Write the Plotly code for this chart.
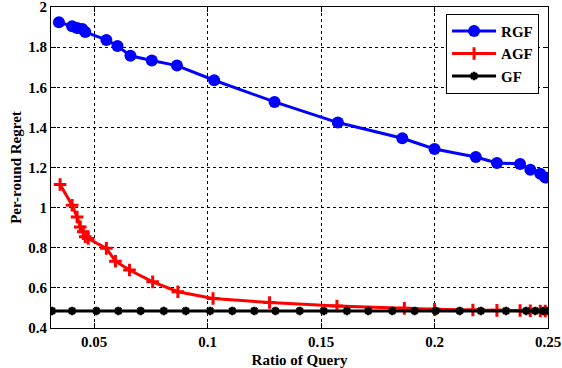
import plotly.graph_objects as go

# values
rgf_x = [0.0345, 0.0403, 0.0425, 0.0448, 0.0461, 0.0554, 0.0603, 0.0660, 0.0754, 0.0865,
         0.1029, 0.1295, 0.1574, 0.1858, 0.2000, 0.2182, 0.2275, 0.2377, 0.2422, 0.2466, 0.2488]
rgf_y = [1.924, 1.904, 1.895, 1.890, 1.875, 1.836, 1.806, 1.757, 1.733, 1.708,
         1.635, 1.527, 1.424, 1.346, 1.292, 1.252, 1.223, 1.218, 1.189, 1.169, 1.150]

agf_x = [0.0350, 0.0403, 0.0425, 0.0439, 0.0452, 0.0461, 0.0474, 0.0554, 0.0594, 0.0656,
         0.0758, 0.0869, 0.1024, 0.1273, 0.1570, 0.1867, 0.2000, 0.2169, 0.2275, 0.2377,
         0.2422, 0.2466, 0.2488]
agf_y = [1.115, 1.012, 0.953, 0.904, 0.880, 0.855, 0.846, 0.797, 0.733, 0.689,
         0.630, 0.581, 0.547, 0.527, 0.510, 0.498, 0.493, 0.490, 0.488, 0.487,
         0.486, 0.485, 0.485]

gf_x = [0.0314, 0.0403, 0.0510, 0.0607, 0.0705, 0.0807, 0.0904, 0.1011, 0.1109, 0.1206,
        0.1299, 0.1406, 0.1512, 0.1614, 0.1708, 0.1814, 0.1912, 0.2005, 0.2111, 0.2204,
        0.2315, 0.2404, 0.2444, 0.2479, 0.2500]
gf_y = [0.485] * len(gf_x)

x_ticks = [0.05, 0.1, 0.15, 0.2, 0.25]
x_ticklabels = ["0.05", "0.1", "0.15", "0.2", "0.25"]
y_ticks = [0.4, 0.6, 0.8, 1.0, 1.2, 1.4, 1.6, 1.8, 2.0]
y_ticklabels = ["0.4", "0.6", "0.8", "1", "1.2", "1.4", "1.6", "1.8", "2"]

font_family = "Liberation Serif"

fig = go.Figure()
fig.add_trace(go.Scatter(x=rgf_x, y=rgf_y, mode="lines+markers", name="<b>RGF</b>",
                         line=dict(color="#0000ff", width=3),
                         marker=dict(symbol="circle", size=12, color="#0000ff")))
fig.add_trace(go.Scatter(x=agf_x, y=agf_y, mode="lines+markers", name="<b>AGF</b>",
                         line=dict(color="#ff0000", width=3),
                         marker=dict(symbol="cross-thin", size=9,
                                     line=dict(color="#ff0000", width=3))))
fig.add_trace(go.Scatter(x=gf_x, y=gf_y, mode="lines+markers", name="<b>GF</b>",
                         line=dict(color="#000000", width=3),
                         marker=dict(symbol="asterisk", size=7,
                                     line=dict(color="#000000", width=2.5))))

axis_common = dict(showline=True, linecolor="black", linewidth=1, mirror="ticks",
                   ticks="inside", ticklen=5, tickcolor="black",
                   showgrid=True, gridcolor="black", gridwidth=1, griddash="dot",
                   zeroline=False, ticklabeloverflow="allow",
                   tickfont=dict(family=font_family, size=15, color="black"))

fig.update_xaxes(range=[0.031, 0.25], tickvals=x_ticks, ticktext=["<b>%s</b>" % t for t in x_ticklabels],
                 title=dict(text="<b>Ratio of Query</b>", font=dict(family=font_family, size=15, color="black"),
                            standoff=5),
                 **axis_common)
fig.update_yaxes(range=[0.4, 2.0], tickvals=y_ticks, ticktext=["<b>%s</b>" % t for t in y_ticklabels],
                 title=dict(text="<b>Per-round Regret</b>", font=dict(family=font_family, size=15, color="black"),
                            standoff=3),
                 **axis_common)

fig.update_layout(
    width=562, height=368,
    margin=dict(l=51, r=14, t=7, b=40, autoexpand=False),
    plot_bgcolor="white", paper_bgcolor="white",
    legend=dict(x=0.982, y=0.979, xanchor="right", yanchor="top",
                bgcolor="white", bordercolor="black", borderwidth=1,
                font=dict(family=font_family, size=15, color="black"),
                itemwidth=44, tracegroupgap=0),
    showlegend=True,
)

# drop the default page margin so the figure sits at the window's corner
fig.write_html("out.html", config={"displayModeBar": False},
               post_script="document.body.style.margin='0';")
